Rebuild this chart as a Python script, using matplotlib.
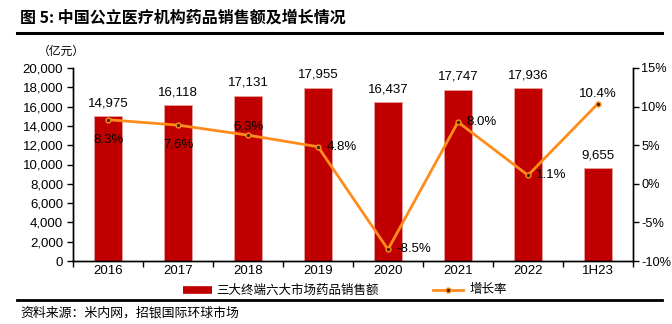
import matplotlib
matplotlib.use("Agg")
import matplotlib.pyplot as plt
import numpy as np
from matplotlib.lines import Line2D

plt.rcParams['font.family'] = ['Liberation Sans', 'Noto Sans CJK SC', 'DejaVu Sans']

categories = ['2016', '2017', '2018', '2019', '2020', '2021', '2022', '1H23']
sales = [14975, 16118, 17131, 17955, 16437, 17747, 17936, 9655]
growth = [8.3, 7.6, 6.3, 4.8, -8.5, 8.0, 1.1, 10.4]
sales_labels = ['14,975', '16,118', '17,131', '17,955', '16,437', '17,747', '17,936', '9,655']
growth_labels = ['8.3%', '7.6%', '6.3%', '4.8%', '-8.5%', '8.0%', '1.1%', '10.4%']
left_ticks = [0, 2000, 4000, 6000, 8000, 10000, 12000, 14000, 16000, 18000, 20000]
right_ticks = [-10, -5, 0, 5, 10, 15]

bar_color = '#C00000'
line_color = '#FF8C1A'

W, H = 672, 324
fig = plt.figure(figsize=(W / 100, H / 100), dpi=100)
ax = fig.add_axes([73 / W, 1 - 261 / H, 560 / W, 193 / H])
ax2 = ax.twinx()

x = np.arange(len(categories))
ax.bar(x, sales, width=0.4, color=bar_color, edgecolor='#E8A0A0', linewidth=0.6, zorder=2)
ax.set_xlim(-0.5, len(categories) - 0.5)
ax.set_ylim(0, 20000)
ax.set_yticks(left_ticks)
ax.set_yticklabels([f'{v:,}' for v in left_ticks], fontsize=9.5)
ax.set_xticks(x)
ax.set_xticklabels(categories, fontsize=9.5)
ax.tick_params(axis='x', length=0, pad=3)
ax.set_xticks(np.arange(-0.5, len(categories), 1), minor=True)
ax.tick_params(axis='x', which='minor', length=4, direction='out', width=1)
ax.tick_params(axis='y', length=4, width=1, direction='out', pad=3)

for s in ['top']:
    ax.spines[s].set_visible(False)
    ax2.spines[s].set_visible(False)
for a in (ax, ax2):
    for s in ['left', 'right', 'bottom']:
        a.spines[s].set_linewidth(1.0)
        a.spines[s].set_color('black')

for xi, v, lab in zip(x, sales, sales_labels):
    ax.text(xi, v + 700, lab, ha='center', va='bottom', fontsize=9.5)

ax2.plot(x, growth, color=line_color, linewidth=2, marker='o', markersize=3.5,
         markerfacecolor='#3a2a10', markeredgecolor=line_color, markeredgewidth=1, zorder=3)
ax2.set_ylim(-10, 15)
ax2.set_yticks(right_ticks)
ax2.set_yticklabels([f'{v}%' for v in right_ticks], fontsize=9.2)
ax2.tick_params(axis='y', length=4, width=1, direction='out', pad=2)

# label placements: (dx in data units, dy in pct units, ha)
placements = {
    0: (0, -2.6, 'center'),
    1: (0, -2.6, 'center'),
    2: (0, 1.0, 'center'),
    3: (0.12, 0, 'left'),
    4: (0.12, 0, 'left'),
    5: (0.12, 0, 'left'),
    6: (0.12, 0, 'left'),
    7: (0, 1.2, 'center'),
}
for i, (g, lab) in enumerate(zip(growth, growth_labels)):
    dx, dy, ha = placements[i]
    ax2.text(x[i] + dx, g + dy, lab, ha=ha, va='center', fontsize=9.5, zorder=4)

cjk = ['Noto Sans CJK SC', 'DejaVu Sans']
# title & rules
fig.text(20 / W, 1 - 18 / H, '图 5: 中国公立医疗机构药品销售额及增长情况', fontsize=11.5,
         fontweight='bold', ha='left', va='center', family=cjk)
fig.add_artist(Line2D([17 / W, 662 / W], [1 - 33 / H, 1 - 33 / H], color='black', linewidth=2.2))
fig.text(38 / W, 1 - 51 / H, '（亿元）', fontsize=8.5, ha='left', va='center', family=cjk)

# legend
ly = 1 - 290 / H
fig.add_artist(Line2D([183 / W, 212 / W], [ly, ly], color=bar_color, linewidth=5.5, solid_capstyle='butt'))
fig.text(216 / W, ly, '三大终端六大市场药品销售额', fontsize=9, ha='left', va='center', family=cjk)
fig.add_artist(Line2D([433 / W, 463 / W], [ly, ly], color=line_color, linewidth=2))
fig.add_artist(Line2D([448 / W], [ly], color=line_color, marker='o', markersize=3.5,
                      markerfacecolor='#3a2a10', markeredgecolor=line_color, linestyle='none'))
fig.text(470 / W, ly, '增长率', fontsize=9, ha='left', va='center', family=cjk)

fig.add_artist(Line2D([17 / W, 662 / W], [1 - 300 / H, 1 - 300 / H], color='black', linewidth=2.0))
fig.text(20 / W, 1 - 313 / H, '资料来源：米内网，招银国际环球市场', fontsize=9.3, ha='left', va='center',
         family=cjk)

fig.savefig('out.png', dpi=100)
